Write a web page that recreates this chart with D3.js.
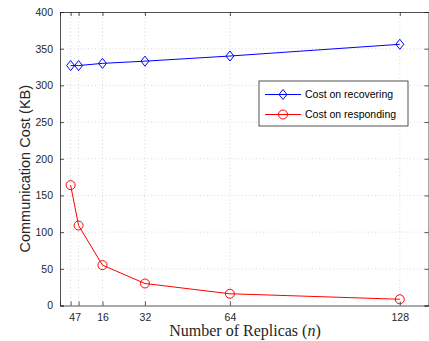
<!DOCTYPE html>
<html>
<head>
<meta charset="utf-8">
<script src="https://cdn.jsdelivr.net/npm/d3@7"></script>
<style>
  body { margin: 0; background: #fff; }
  svg { display: block; }
  .tick text { font-family: "Liberation Sans", Arial, sans-serif; font-size: 10.5px; fill: #262626; }
</style>
</head>
<body>
<div id="chart"></div>
<script>
// data
const replicas = [4, 7, 16, 32, 64, 128];
const recovering = [327, 327, 330, 333, 340, 356];
const responding = [164, 109, 55, 30, 16, 8.5];
const xTicks = [4, 7, 16, 32, 64, 128];
const yTicks = [0, 50, 100, 150, 200, 250, 300, 350, 400];

const width = 429, height = 341;
const margin = { left: 60, top: 12, right: 0, bottom: 35 };

const svg = d3.select('#chart')
  .append('svg')
  .attr('width', width)
  .attr('height', height);

const x = d3.scaleLinear().domain([0, 139]).range([margin.left, width - margin.right]);
const y = d3.scaleLinear().domain([0, 400]).range([height - margin.bottom - 0.5, margin.top]);

const axisColor = '#262626';

// grid
const grid = svg.append('g').attr('stroke', '#d0d0d0').attr('stroke-dasharray', '1,2.5').attr('stroke-width', 0.8);
grid.selectAll('.gx')
  .data(xTicks)
  .join('line')
  .attr('x1', d => x(d)).attr('x2', d => x(d))
  .attr('y1', y(0)).attr('y2', y(400));
grid.selectAll('.gy')
  .data(yTicks.slice(1, -1))
  .join('line')
  .attr('x1', x(0)).attr('x2', x(139))
  .attr('y1', d => y(d)).attr('y2', d => y(d));

// axes (ticks pointing inward, matlab style)
const axBottom = svg.append('g')
  .attr('transform', `translate(0,${y(0)})`)
  .call(d3.axisBottom(x).tickValues(xTicks).tickSize(-4).tickPadding(8));
const axTop = svg.append('g')
  .attr('transform', `translate(0,${y(400)})`)
  .call(d3.axisTop(x).tickValues(xTicks).tickSize(-4).tickFormat(''));
const axLeft = svg.append('g')
  .attr('transform', `translate(${x(0)},0)`)
  .call(d3.axisLeft(y).tickValues(yTicks).tickSize(-4).tickPadding(7));
const axRight = svg.append('g')
  .attr('transform', `translate(${x(139) - 0.5},0)`)
  .call(d3.axisRight(y).tickValues(yTicks).tickSize(-4).tickFormat(''));

[axBottom, axTop, axLeft, axRight].forEach(g => {
  g.select('.domain').attr('stroke', axisColor).attr('stroke-width', 0.8);
  g.selectAll('.tick line').attr('stroke', axisColor).attr('stroke-width', 0.8);
});
// "4" and "7" sit close together, nudge like the original
axBottom.selectAll('.tick text').attr('dx', d => d === 4 ? 1 : (d === 7 ? -1 : 0));

const line = d3.line().x((d, i) => x(replicas[i])).y(d => y(d));

// recovering series (blue diamonds)
svg.append('path')
  .datum(recovering)
  .attr('fill', 'none')
  .attr('stroke', '#0000ff')
  .attr('stroke-width', 1)
  .attr('d', line);
const diamond = 'M0,-5L4,0L0,5L-4,0Z';
svg.append('g')
  .selectAll('path')
  .data(recovering)
  .join('path')
  .attr('transform', (d, i) => `translate(${x(replicas[i])},${y(d)})`)
  .attr('d', diamond)
  .attr('fill', 'none')
  .attr('stroke', '#0000ff')
  .attr('stroke-width', 1);

// responding series (red circles)
svg.append('path')
  .datum(responding)
  .attr('fill', 'none')
  .attr('stroke', '#ff0000')
  .attr('stroke-width', 1)
  .attr('d', line);
svg.append('g')
  .selectAll('circle')
  .data(responding)
  .join('circle')
  .attr('cx', (d, i) => x(replicas[i]))
  .attr('cy', d => y(d))
  .attr('r', 4.5)
  .attr('fill', 'none')
  .attr('stroke', '#ff0000')
  .attr('stroke-width', 1);

// legend
const legend = svg.append('g').attr('transform', 'translate(259,81)');
legend.append('rect')
  .attr('width', 149).attr('height', 45)
  .attr('fill', '#fff').attr('stroke', axisColor).attr('stroke-width', 0.8);
const entries = [
  { label: 'Cost on recovering', color: '#0000ff', shape: 'diamond' },
  { label: 'Cost on responding', color: '#ff0000', shape: 'circle' }
];
entries.forEach((e, i) => {
  const g = legend.append('g').attr('transform', `translate(0,${13.5 + i * 20})`);
  g.append('line').attr('x1', 6).attr('x2', 42).attr('stroke', e.color).attr('stroke-width', 1);
  if (e.shape === 'diamond') {
    g.append('path').attr('d', diamond).attr('transform', 'translate(24,0)')
      .attr('fill', 'none').attr('stroke', e.color);
  } else {
    g.append('circle').attr('cx', 24).attr('r', 4.5).attr('fill', 'none').attr('stroke', e.color);
  }
  g.append('text')
    .attr('x', 46).attr('dy', '0.35em')
    .style('font-family', '"Liberation Sans", Arial, sans-serif')
    .style('font-size', '10.5px')
    .attr('fill', '#000')
    .text(e.label);
});

// axis titles
svg.append('text')
  .attr('transform', `translate(30,${(y(0) + y(400)) / 2 + 10}) rotate(-90)`)
  .attr('text-anchor', 'middle')
  .style('font-family', '"Liberation Sans", Arial, sans-serif')
  .style('font-size', '14.5px')
  .attr('fill', '#262626')
  .text('Communication Cost (KB)');

const xl = svg.append('text')
  .attr('x', 245).attr('y', 336)
  .attr('text-anchor', 'middle')
  .style('font-family', '"Liberation Serif", "Times New Roman", serif')
  .style('font-size', '16px')
  .attr('fill', '#262626');
xl.append('tspan').text('Number of Replicas (');
xl.append('tspan').style('font-style', 'italic').text('n');
xl.append('tspan').text(')');
</script>
</body>
</html>
